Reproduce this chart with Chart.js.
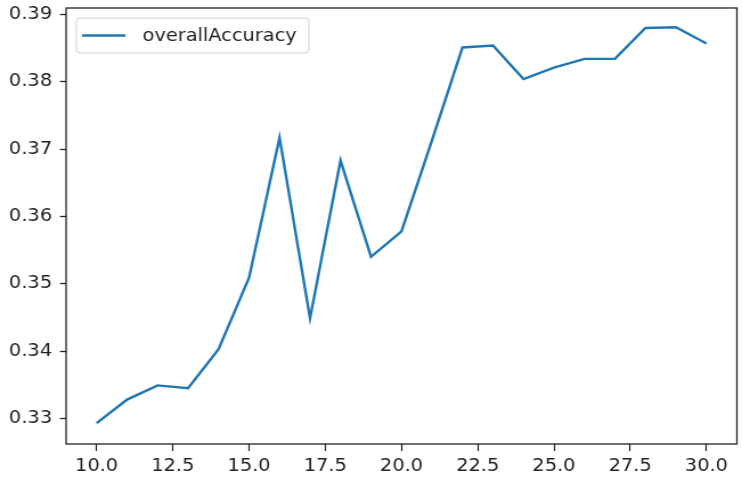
<!DOCTYPE html>
<html lang="en">
<head>
  <meta charset="UTF-8">
  <title>overallAccuracy</title>
  <script src="https://cdn.jsdelivr.net/npm/chart.js"></script>
  <style>
    html, body { margin: 0; padding: 0; background: #fff; overflow: hidden; }
    /* a figura original está esticada na horizontal (~1.14x) */
    #wrap { width: 651px; height: 488px; transform: scaleX(1.1398); transform-origin: 0 0; }
  </style>
</head>
<body>
  <div id="wrap"><canvas id="grafico"></canvas></div>

  <script>
    const epochs = [10, 11, 12, 13, 14, 15, 16, 17, 18, 19, 20, 21, 22, 23, 24, 25, 26, 27, 28, 29, 30];
    const overallAccuracy = [0.3293, 0.3328, 0.3349, 0.3345, 0.3403, 0.3509, 0.3717, 0.3449, 0.3683, 0.3540, 0.3578,
      0.3713, 0.3851, 0.3854, 0.3804, 0.3821, 0.3834, 0.3834, 0.3880, 0.3881, 0.3857];
    const xTicks = [10, 12.5, 15, 17.5, 20, 22.5, 25, 27.5, 30];
    const yTicks = [0.33, 0.34, 0.35, 0.36, 0.37, 0.38, 0.39];

    const lineColor = '#1f77b4';
    const inkColor = '#222';
    Chart.defaults.font.family = "'DejaVu Sans', sans-serif";
    Chart.defaults.font.size = 17;
    Chart.defaults.color = inkColor;

    // caixa em volta da área do gráfico + legenda estilo matplotlib
    const moldura = {
      id: 'moldura',
      afterDraw(chart) {
        const { ctx, chartArea: a } = chart;
        ctx.save();
        ctx.strokeStyle = inkColor;
        ctx.lineWidth = 1.3;
        ctx.strokeRect(a.left, a.top, a.right - a.left, a.bottom - a.top);

        const lx = a.left + 9, ly = a.top + 10, lw = 204, lh = 35;
        ctx.beginPath();
        ctx.roundRect(lx, ly, lw, lh, 3);
        ctx.fillStyle = 'rgba(255,255,255,0.8)';
        ctx.fill();
        ctx.strokeStyle = '#d0d0d0';
        ctx.lineWidth = 1;
        ctx.stroke();

        ctx.beginPath();
        ctx.moveTo(lx + 5, ly + lh / 2);
        ctx.lineTo(lx + 43, ly + lh / 2);
        ctx.strokeStyle = lineColor;
        ctx.lineWidth = 2.4;
        ctx.stroke();

        ctx.fillStyle = inkColor;
        ctx.font = "17px 'DejaVu Sans', sans-serif";
        ctx.textBaseline = 'middle';
        ctx.fillText(chart.data.datasets[0].label, lx + 58, ly + lh / 2 + 1);
        ctx.restore();
      }
    };

    new Chart(document.getElementById('grafico'), {
      type: 'line',
      data: {
        datasets: [{
          label: 'overallAccuracy',
          data: epochs.map((e, i) => ({ x: e, y: overallAccuracy[i] })),
          borderColor: lineColor,
          borderWidth: 2.4,
          pointRadius: 0,
          fill: false,
          tension: 0
        }]
      },
      options: {
        responsive: true,
        maintainAspectRatio: false,
        animation: false,
        layout: { padding: { top: 8, right: 4.5, left: 0, bottom: 0 } },
        plugins: { legend: { display: false }, tooltip: { enabled: false } },
        scales: {
          x: {
            type: 'linear',
            min: 9,
            max: 31,
            afterBuildTicks: s => { s.ticks = xTicks.map(v => ({ value: v })); },
            afterFit: s => { s.height = 44; s.paddingLeft = 0; s.paddingRight = 0; },
            ticks: { callback: v => v.toFixed(1), padding: 5, maxRotation: 0 },
            grid: { drawOnChartArea: false, tickLength: 7, color: inkColor, tickWidth: 1.2 },
            border: { display: false }
          },
          y: {
            type: 'linear',
            min: 0.3262,
            max: 0.39096,
            afterBuildTicks: s => { s.ticks = yTicks.map(v => ({ value: v })); },
            afterFit: s => { s.width = 58; s.paddingTop = 0; s.paddingBottom = 0; },
            ticks: { callback: v => v.toFixed(2), padding: 7 },
            grid: { drawOnChartArea: false, tickLength: 5.3, color: inkColor, tickWidth: 1.3 },
            border: { display: false }
          }
        }
      },
      plugins: [moldura]
    });
  </script>
</body>
</html>
